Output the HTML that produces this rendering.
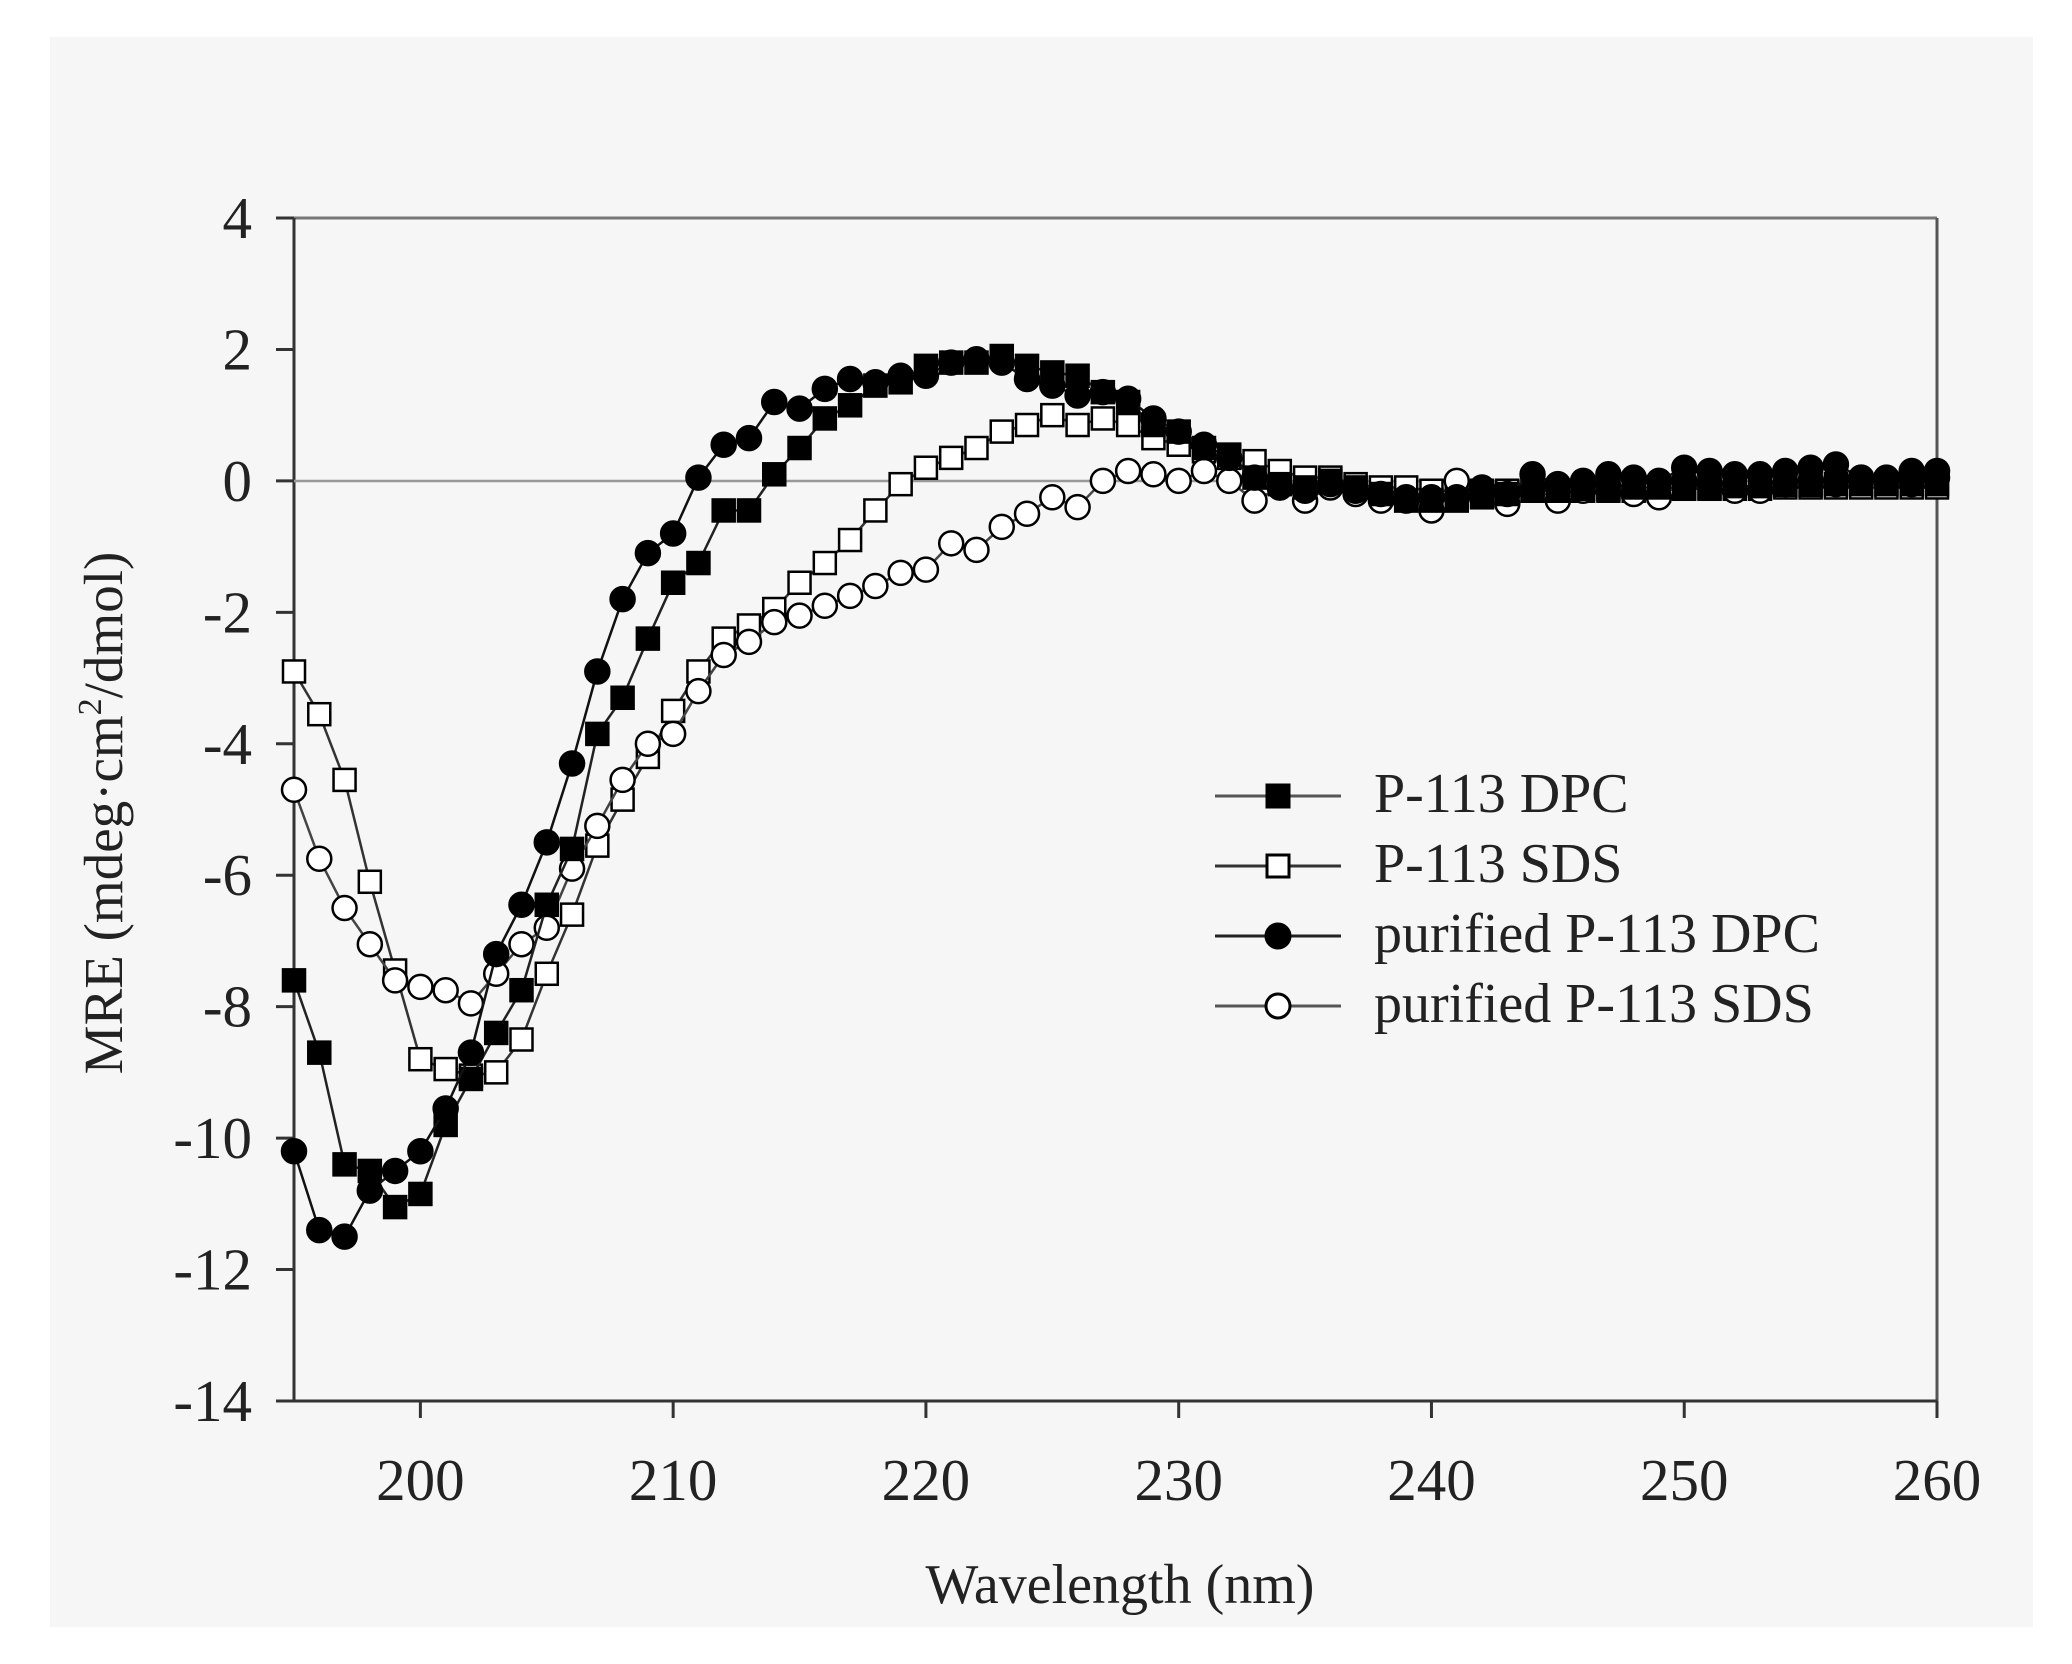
<!DOCTYPE html>
<html><head><meta charset="utf-8"><style>
html,body{margin:0;padding:0;background:#fff;}
svg{display:block;}
text{font-family:"Liberation Serif",serif;fill:#222;}
</style></head><body>
<svg id="s" width="2072" height="1664" viewBox="0 0 2072 1664" xmlns="http://www.w3.org/2000/svg">
<rect x="0" y="0" width="2072" height="1664" fill="#ffffff"/>
<rect x="50" y="37" width="1983" height="1590" fill="#f6f6f6"/>
<g id="axes" stroke="#333" stroke-width="3" fill="none">
<line x1="294" y1="218" x2="1937" y2="218" stroke="#777"/>
<line x1="1937" y1="218" x2="1937" y2="1401" stroke="#555"/>
<line x1="294" y1="218" x2="294" y2="1401"/>
<line x1="294" y1="1401" x2="1937" y2="1401"/>
</g>
<line x1="294" y1="481" x2="1937" y2="481" stroke="#999" stroke-width="2.5"/>
<g id="ticks" stroke="#333" stroke-width="3"></g>
<g id="labels" font-size="59"></g>
<g id="series"></g>
<text x="1120" y="1603" font-size="56" text-anchor="middle">Wavelength (nm)</text>
<text transform="translate(122,813) rotate(-90)" font-size="55" text-anchor="middle">MRE (mdeg·cm<tspan font-size="34" dy="-21">2</tspan><tspan dy="21">/dmol)</tspan></text>
<g font-size="56">
<text x="1374" y="812">P-113 DPC</text>
<text x="1374" y="882">P-113 SDS</text>
<text x="1374" y="952">purified P-113 DPC</text>
<text x="1374" y="1022">purified P-113 SDS</text>
</g>
<g stroke-width="3">
<line x1="1215" y1="796" x2="1341" y2="796" stroke="#555"/><rect x="1267" y="785" width="22" height="22" fill="#000" stroke="#000"/>
<line x1="1215" y1="866" x2="1341" y2="866" stroke="#333"/><rect x="1267" y="855" width="22" height="22" fill="#fff" stroke="#000"/>
<line x1="1215" y1="936" x2="1341" y2="936" stroke="#222"/><circle cx="1278" cy="936" r="12" fill="#000" stroke="#000"/>
<line x1="1215" y1="1006" x2="1341" y2="1006" stroke="#555"/><circle cx="1278" cy="1006" r="12" fill="#fff" stroke="#000"/>
</g>
</svg>
<script>
var NS="http://www.w3.org/2000/svg";
function X(v){return 294+(v-195)*25.277;}
function Y(v){return 218+(4-v)*65.72;}
function el(t,a,p){var e=document.createElementNS(NS,t);for(var k in a)e.setAttribute(k,a[k]);p.appendChild(e);return e;}
var tk=document.getElementById('ticks'),lb=document.getElementById('labels');
for(var v=4;v>=-14;v-=2){var y=Y(v);el('line',{x1:276,y1:y,x2:294,y2:y},tk);var t=el('text',{x:252,y:y+20,'text-anchor':'end'},lb);t.textContent=v;}
for(var w=200;w<=260;w+=10){var x=X(w);el('line',{x1:x,y1:1401,x2:x,y2:1418},tk);var t=el('text',{x:x,y:1500,'text-anchor':'middle'},lb);t.textContent=w;}
var a=[-7.6,-8.7,-10.4,-10.5,-11.05,-10.85,-9.8,-9.1,-8.4,-7.75,-6.45,-5.6,-3.85,-3.3,-2.4,-1.55,-1.25,-0.45,-0.45,0.1,0.5,0.95,1.15,1.45,1.5,1.75,1.8,1.8,1.9,1.75,1.65,1.6,1.35,1.2,0.85,0.75,0.5,0.4,0.05,-0.05,-0.1,0,-0.1,-0.2,-0.3,-0.3,-0.3,-0.25,-0.2,-0.15,-0.15,-0.12,-0.12,-0.1,-0.1,-0.1,-0.1,-0.08,-0.08,-0.06,-0.06,-0.05,-0.05,-0.05,-0.05,-0.05];
var b=[-2.9,-3.55,-4.55,-6.1,-7.45,-8.8,-8.95,-9.05,-9.0,-8.5,-7.5,-6.6,-5.55,-4.85,-4.2,-3.5,-2.9,-2.4,-2.2,-1.95,-1.55,-1.25,-0.9,-0.45,-0.05,0.2,0.35,0.5,0.75,0.85,1.0,0.85,0.95,0.85,0.65,0.55,0.45,0.35,0.3,0.15,0.05,0.05,-0.05,-0.1,-0.1,-0.15,-0.15,-0.15,-0.15,-0.15,-0.15,-0.15,-0.15,-0.15,-0.15,-0.12,-0.12,-0.12,-0.12,-0.1,-0.1,-0.1,-0.1,-0.1,-0.1,-0.1];
var c=[-10.2,-11.4,-11.5,-10.8,-10.5,-10.2,-9.55,-8.7,-7.2,-6.45,-5.5,-4.3,-2.9,-1.8,-1.1,-0.8,0.05,0.55,0.65,1.2,1.1,1.4,1.55,1.5,1.6,1.6,1.8,1.85,1.8,1.55,1.45,1.3,1.35,1.25,0.95,0.75,0.55,0.35,0.05,-0.1,-0.15,-0.05,-0.15,-0.2,-0.25,-0.25,-0.25,-0.1,-0.2,0.1,-0.05,0,0.1,0.05,0,0.2,0.15,0.1,0.1,0.15,0.2,0.25,0.05,0.05,0.15,0.15];
var d=[-4.7,-5.75,-6.5,-7.05,-7.6,-7.7,-7.75,-7.95,-7.5,-7.05,-6.8,-5.9,-5.25,-4.55,-4.0,-3.85,-3.2,-2.65,-2.45,-2.15,-2.05,-1.9,-1.75,-1.6,-1.4,-1.35,-0.95,-1.05,-0.7,-0.5,-0.25,-0.4,0,0.15,0.1,0,0.15,0,-0.3,-0.1,-0.3,-0.1,-0.2,-0.3,-0.3,-0.45,0,-0.2,-0.35,-0.1,-0.3,-0.15,-0.1,-0.2,-0.25,0,-0.05,-0.15,-0.15,-0.05,0,-0.05,0.05,0,-0.05,0.05];
var S=document.getElementById('series');
function draw(arr,shape,fill,lc){
 var pts=arr.map(function(v,i){return X(195+i).toFixed(1)+','+Y(v).toFixed(1);}).join(' ');
 el('polyline',{points:pts,fill:'none',stroke:lc,'stroke-width':2.5},S);
 var g=el('g',{fill:fill,stroke:'#000','stroke-width':2.5},S);
 arr.forEach(function(v,i){var x=X(195+i),y=Y(v);
  if(shape=='s')el('rect',{x:x-11,y:y-11,width:22,height:22},g);else el('circle',{cx:x,cy:y,r:12},g);});
}
draw(b,'s','#fff','#333');
draw(d,'c','#fff','#444');
draw(a,'s','#000','#222');
draw(c,'c','#000','#111');
</script>
</body></html>
